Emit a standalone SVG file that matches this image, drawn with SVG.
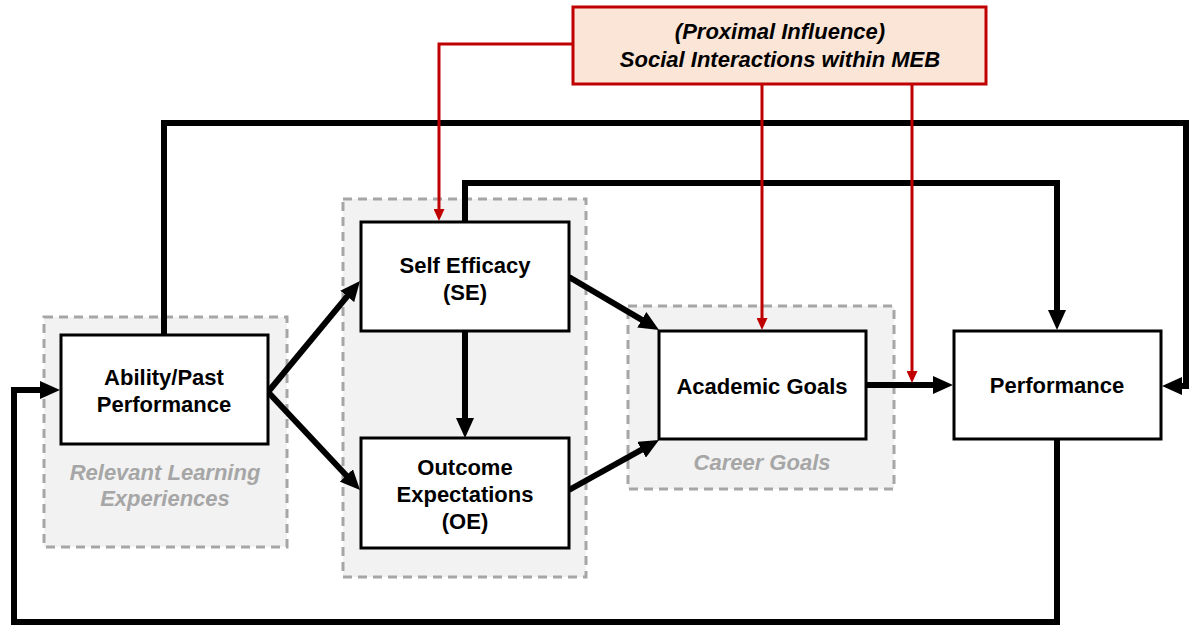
<svg xmlns="http://www.w3.org/2000/svg" width="1200" height="632" viewBox="0 0 1200 632">
<style>
.grp{fill:#f2f2f2;stroke:#a6a6a6;stroke-width:3;stroke-dasharray:9 6}
.node{fill:#ffffff;stroke:#000000;stroke-width:3}
.t{font-family:"Liberation Sans",Arial,sans-serif;font-weight:bold;font-size:22px;fill:#000000;text-anchor:middle}
.gl{font-family:"Liberation Sans",Arial,sans-serif;font-weight:bold;font-style:italic;font-size:22px;fill:#a6a6a6;text-anchor:middle}
.it{font-style:italic}
.c{fill:none;stroke:#000000;stroke-width:6;stroke-linejoin:miter;stroke-linecap:butt}
.r{fill:none;stroke:#c00000;stroke-width:3;stroke-linejoin:miter}
</style>
<defs>
<marker id="ah" markerUnits="userSpaceOnUse" markerWidth="20" markerHeight="18" refX="10" refY="9" orient="auto" viewBox="0 0 20 18">
<path d="M0,0 L20,9 L0,18 z" fill="#000000"/>
</marker>
<marker id="rh" markerUnits="userSpaceOnUse" markerWidth="12" markerHeight="11" refX="6" refY="5.5" orient="auto" viewBox="0 0 12 11">
<path d="M0,0 L12,5.5 L0,11 z" fill="#c00000"/>
</marker>
</defs>

<g id="group-rle">
<rect class="grp" x="44" y="317" width="243" height="230"/>
<text class="gl" x="165" y="480">Relevant Learning</text>
<text class="gl" x="165" y="506">Experiences</text>
</g>
<g id="group-seoe">
<rect class="grp" x="343" y="199" width="243" height="378"/>
</g>
<g id="group-career">
<rect class="grp" x="628" y="306" width="266" height="183"/>
<text class="gl" x="762" y="470">Career Goals</text>
</g>

<g id="connectors">
<path class="c" d="M268,392 L353.6,288.7" marker-end="url(#ah)"/>
<path class="c" d="M268,392 L353.2,482.7" marker-end="url(#ah)"/>
<path class="c" d="M465,332 L465,428" marker-end="url(#ah)"/>
<path class="c" d="M569,277 L650.4,324.9" marker-end="url(#ah)"/>
<path class="c" d="M569,490 L650.3,444.9" marker-end="url(#ah)"/>
<path class="c" d="M866,385 L943,385" marker-end="url(#ah)"/>
<path class="c" d="M164,335 L164,123 L1186,123 L1186,386 L1172,386" marker-end="url(#ah)"/>
<path class="c" d="M465,222 L465,183 L1057,183 L1057,320" marker-end="url(#ah)"/>
<path class="c" d="M1057,439 L1057,622 L14,622 L14,390 L50,390" marker-end="url(#ah)"/>
<path class="r" d="M573,44 L439,44 L439,215" marker-end="url(#rh)"/>
<path class="r" d="M762,84 L762,324" marker-end="url(#rh)"/>
<path class="r" d="M912,84 L912,377" marker-end="url(#rh)"/>
</g>

<g id="node-ability">
<rect class="node" x="61" y="335" width="207" height="109"/>
<text class="t" x="164" y="385">Ability/Past</text>
<text class="t" x="164" y="412">Performance</text>
</g>
<g id="node-se">
<rect class="node" x="361" y="222" width="208" height="109"/>
<text class="t" x="465" y="273">Self Efficacy</text>
<text class="t" x="465" y="300">(SE)</text>
</g>
<g id="node-oe">
<rect class="node" x="361" y="438" width="208" height="110"/>
<text class="t" x="465" y="475">Outcome</text>
<text class="t" x="465" y="502">Expectations</text>
<text class="t" x="465" y="529">(OE)</text>
</g>
<g id="node-ag">
<rect class="node" x="659" y="331" width="207" height="108"/>
<text class="t" x="762" y="394">Academic Goals</text>
</g>
<g id="node-perf">
<rect class="node" x="954" y="331" width="207" height="108"/>
<text class="t" x="1057" y="393">Performance</text>
</g>
<g id="node-social">
<rect x="573" y="7" width="413" height="77" fill="#fbe5d6" stroke="#c00000" stroke-width="3"/>
<text class="t it" x="780" y="39">(Proximal Influence)</text>
<text class="t it" x="780" y="67">Social Interactions within MEB</text>
</g>
</svg>
